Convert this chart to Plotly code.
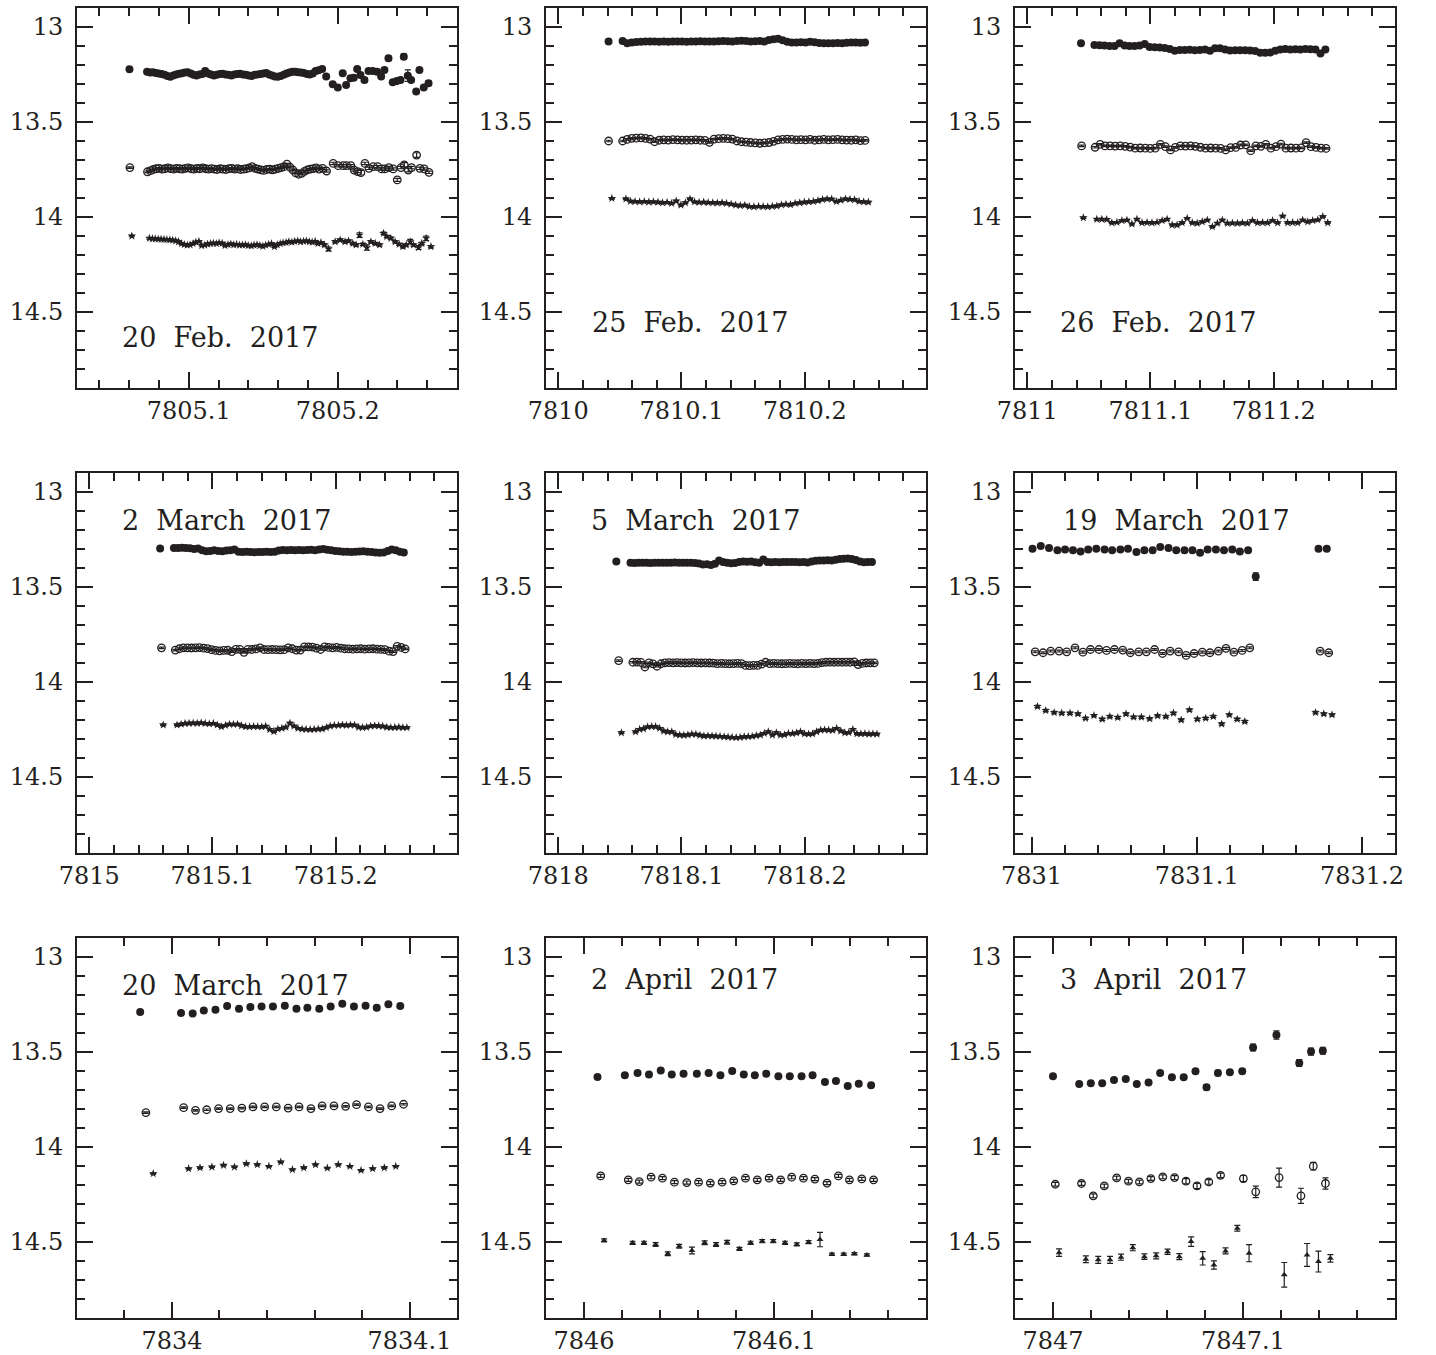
import plotly.graph_objects as go

# ---------------- data ----------------
DAYS = [7805, 7810, 7811, 7815, 7818, 7831, 7834, 7846, 7847]
LABELS = ["20 Feb. 2017", "25 Feb. 2017", "26 Feb. 2017",
          "2 March 2017", "5 March 2017", "19 March 2017",
          "20 March 2017", "2 April 2017", "3 April 2017"]
X_RANGES = [(7805.025, 7805.28), (7809.99, 7810.2985), (7810.99, 7811.2985),
            (7814.99, 7815.2985), (7817.99, 7818.2985), (7830.99, 7831.22),
            (7833.96, 7834.12), (7845.98, 7846.18), (7846.98, 7847.18)]
Y_RANGE = (14.9, 12.9)
Y_TICKS = [13, 13.5, 14, 14.5]

# time lag of the open-circle and star bands (panels 1-5, days)
LAG_V = [0.0003, 0.0000, 0.0005, 0.0011, 0.0019]
LAG_B = [0.0016, 0.0027, 0.0019, 0.0025, 0.0041]
ERR_SMALL = 0.004

# ---- panel 1: 20 Feb 2017 ----
T1 = [0.0602,
      0.0720, 0.0740, 0.0759, 0.0779, 0.0798, 0.0818, 0.0837, 0.0857, 0.0876, 0.0896,
      0.0915, 0.0935, 0.0954, 0.0974, 0.0993, 0.1013, 0.1032, 0.1052, 0.1071, 0.1091,
      0.1110, 0.1130, 0.1149, 0.1169, 0.1188, 0.1208, 0.1227, 0.1247, 0.1266, 0.1286,
      0.1305, 0.1325, 0.1344, 0.1364, 0.1383, 0.1403, 0.1422, 0.1442, 0.1461, 0.1481,
      0.1500, 0.1520, 0.1539, 0.1559, 0.1578, 0.1598, 0.1617, 0.1637, 0.1656, 0.1676,
      0.1695, 0.1715, 0.1734, 0.1754, 0.1773, 0.1793, 0.1812, 0.1832, 0.1851, 0.1871,
      0.1895, 0.1922, 0.1966, 0.2000, 0.2033, 0.2056, 0.2085, 0.2107, 0.2130, 0.2152,
      0.2179, 0.2206, 0.2235, 0.2264, 0.2291, 0.2313, 0.2340, 0.2369, 0.2396, 0.2421,
      0.2443, 0.2470, 0.2492, 0.2526, 0.2548, 0.2577, 0.2609]
R1 = [13.223,
      13.235, 13.240, 13.238, 13.242, 13.245, 13.248, 13.252, 13.258, 13.262, 13.255,
      13.250, 13.246, 13.244, 13.240, 13.238, 13.245, 13.252, 13.255, 13.250, 13.248,
      13.232, 13.245, 13.250, 13.255, 13.252, 13.248, 13.246, 13.250, 13.252, 13.255,
      13.250, 13.248, 13.246, 13.250, 13.252, 13.255, 13.258, 13.252, 13.250, 13.248,
      13.245, 13.242, 13.250, 13.255, 13.260, 13.262, 13.258, 13.252, 13.245, 13.240,
      13.236, 13.235, 13.238, 13.240, 13.242, 13.248, 13.250, 13.245, 13.232, 13.228,
      13.221, 13.261, 13.302, 13.319, 13.244, 13.305, 13.270, 13.267, 13.221, 13.253,
      13.279, 13.231, 13.231, 13.235, 13.261, 13.226, 13.165, 13.291, 13.284, 13.279,
      13.156, 13.256, 13.279, 13.340, 13.226, 13.319, 13.296]
V1 = [13.740,
      13.762, 13.756, 13.750, 13.746, 13.744, 13.748, 13.746, 13.742, 13.745, 13.748,
      13.744, 13.746, 13.748, 13.744, 13.742, 13.746, 13.748, 13.744, 13.746, 13.742,
      13.746, 13.748, 13.745, 13.748, 13.750, 13.746, 13.748, 13.750, 13.746, 13.744,
      13.748, 13.746, 13.750, 13.748, 13.746, 13.742, 13.735, 13.744, 13.748, 13.752,
      13.755, 13.750, 13.748, 13.752, 13.748, 13.744, 13.740, 13.735, 13.722, 13.738,
      13.752, 13.768, 13.775, 13.770, 13.760, 13.752, 13.748, 13.745, 13.742, 13.748,
      13.744, 13.758, 13.718, 13.730, 13.730, 13.730, 13.730, 13.753, 13.761, 13.767,
      13.718, 13.744, 13.735, 13.735, 13.747, 13.747, 13.740, 13.747, 13.805, 13.740,
      13.726, 13.753, 13.740, 13.674, 13.744, 13.747, 13.765]
B1 = [14.100,
      14.112, 14.114, 14.115, 14.116, 14.117, 14.118, 14.119, 14.120, 14.122, 14.125,
      14.130, 14.140, 14.145, 14.148, 14.146, 14.140, 14.132, 14.128, 14.150, 14.148,
      14.142, 14.140, 14.138, 14.140, 14.136, 14.138, 14.150, 14.145, 14.142, 14.146,
      14.144, 14.148, 14.147, 14.146, 14.150, 14.152, 14.148, 14.146, 14.150, 14.154,
      14.148, 14.144, 14.140, 14.156, 14.146, 14.140, 14.136, 14.134, 14.130, 14.132,
      14.128, 14.126, 14.130, 14.128, 14.126, 14.130, 14.132, 14.128, 14.140, 14.135,
      14.147, 14.168, 14.130, 14.121, 14.130, 14.126, 14.139, 14.147, 14.095, 14.144,
      14.161, 14.130, 14.139, 14.147, 14.086, 14.103, 14.112, 14.130, 14.144, 14.156,
      14.147, 14.130, 14.147, 14.161, 14.139, 14.112, 14.156]
ER1_LATE = [0.005, 0.006, 0.006, 0.006, 0.006, 0.006, 0.006, 0.006, 0.006, 0.010,
            0.012, 0.006, 0.006, 0.006, 0.006, 0.006, 0.012, 0.006, 0.006, 0.006,
            0.014, 0.030, 0.012, 0.008, 0.008, 0.008, 0.012]
EV1_LATE = [0.005, 0.006, 0.006, 0.006, 0.006, 0.006, 0.006, 0.006, 0.006, 0.012,
            0.006, 0.006, 0.006, 0.006, 0.006, 0.006, 0.006, 0.006, 0.008, 0.006,
            0.012, 0.010, 0.006, 0.012, 0.006, 0.006, 0.006]
EB1_LATE = [0.006, 0.010, 0.006, 0.006, 0.006, 0.006, 0.006, 0.006, 0.012, 0.006,
            0.014, 0.006, 0.006, 0.006, 0.006, 0.006, 0.006, 0.006, 0.006, 0.006,
            0.006, 0.012, 0.006, 0.010, 0.006, 0.012, 0.006]

# ---- panel 2: 25 Feb 2017 ----
T2 = [0.0408,
      0.0522, 0.0559, 0.0596, 0.0633, 0.0671, 0.0708, 0.0745, 0.0782, 0.0819, 0.0856,
      0.0893, 0.0930, 0.0968, 0.1005, 0.1042, 0.1079, 0.1116, 0.1153, 0.1190, 0.1227,
      0.1264, 0.1302, 0.1339, 0.1376, 0.1413, 0.1450, 0.1487, 0.1524, 0.1561, 0.1599,
      0.1636, 0.1673, 0.1710, 0.1747, 0.1784, 0.1821, 0.1858, 0.1895, 0.1933, 0.1970,
      0.2007, 0.2044, 0.2081, 0.2118, 0.2155, 0.2192, 0.2230, 0.2267, 0.2304, 0.2341,
      0.2378, 0.2415, 0.2452, 0.2490]
R2 = [13.077,
      13.074, 13.085, 13.082, 13.079, 13.078, 13.077, 13.076, 13.077, 13.078, 13.077,
      13.078, 13.077, 13.076, 13.077, 13.078, 13.077, 13.076, 13.075, 13.076, 13.077,
      13.076, 13.075, 13.074, 13.075, 13.076, 13.074, 13.073, 13.074, 13.076, 13.075,
      13.074, 13.076, 13.068, 13.064, 13.062, 13.070, 13.078, 13.081, 13.082, 13.080,
      13.082, 13.078, 13.080, 13.084, 13.086, 13.085, 13.086, 13.084, 13.085, 13.083,
      13.082, 13.081, 13.083, 13.081]
V2 = [13.600,
      13.600, 13.592, 13.586, 13.585, 13.584, 13.586, 13.590, 13.604, 13.596, 13.594,
      13.595, 13.593, 13.594, 13.595, 13.596, 13.595, 13.594, 13.596, 13.597, 13.607,
      13.590, 13.588, 13.586, 13.588, 13.590, 13.600, 13.604, 13.606, 13.608, 13.610,
      13.612, 13.610, 13.608, 13.602, 13.594, 13.592, 13.590, 13.592, 13.594, 13.593,
      13.594, 13.592, 13.596, 13.594, 13.592, 13.594, 13.593, 13.592, 13.594, 13.595,
      13.596, 13.594, 13.598, 13.597]
B2 = [13.902,
      13.905, 13.917, 13.919, 13.920, 13.919, 13.921, 13.920, 13.922, 13.925, 13.923,
      13.928, 13.916, 13.937, 13.925, 13.905, 13.920, 13.923, 13.922, 13.924, 13.925,
      13.926, 13.925, 13.928, 13.932, 13.937, 13.940, 13.938, 13.945, 13.946, 13.944,
      13.945, 13.946, 13.944, 13.942, 13.936, 13.933, 13.935, 13.928, 13.925, 13.922,
      13.920, 13.918, 13.914, 13.908, 13.905, 13.906, 13.919, 13.912, 13.905, 13.907,
      13.909, 13.918, 13.920, 13.922]

# ---- panel 3: 26 Feb 2017 ----
T3 = [0.0436,
      0.0545, 0.0586, 0.0626, 0.0667, 0.0708, 0.0749, 0.0790, 0.0830, 0.0871, 0.0912,
      0.0953, 0.0993, 0.1034, 0.1075, 0.1116, 0.1157, 0.1197, 0.1238, 0.1279, 0.1320,
      0.1360, 0.1401, 0.1442, 0.1483, 0.1524, 0.1564, 0.1605, 0.1646, 0.1687, 0.1727,
      0.1768, 0.1809, 0.1850, 0.1891, 0.1931, 0.1972, 0.2013, 0.2054, 0.2094, 0.2135,
      0.2176, 0.2217, 0.2258, 0.2298, 0.2339, 0.2380, 0.2420]
R3 = [13.086,
      13.095, 13.096, 13.098, 13.100, 13.100, 13.086, 13.097, 13.100, 13.100, 13.098,
      13.089, 13.105, 13.107, 13.108, 13.110, 13.116, 13.125, 13.121, 13.121, 13.120,
      13.122, 13.121, 13.118, 13.125, 13.112, 13.112, 13.118, 13.124, 13.122, 13.123,
      13.122, 13.124, 13.126, 13.135, 13.136, 13.134, 13.125, 13.118, 13.116, 13.118,
      13.117, 13.118, 13.116, 13.117, 13.118, 13.139, 13.118]
V3 = [13.626,
      13.633, 13.618, 13.626, 13.626, 13.627, 13.626, 13.628, 13.632, 13.638, 13.637,
      13.638, 13.639, 13.638, 13.618, 13.630, 13.647, 13.634, 13.626, 13.627, 13.626,
      13.628, 13.633, 13.638, 13.637, 13.638, 13.639, 13.647, 13.635, 13.634, 13.621,
      13.620, 13.651, 13.626, 13.628, 13.618, 13.638, 13.630, 13.616, 13.638, 13.637,
      13.638, 13.636, 13.609, 13.630, 13.634, 13.638, 13.639]
B3 = [14.004,
      14.012, 14.012, 14.013, 14.030, 14.028, 14.019, 14.016, 14.037, 14.012, 14.030,
      14.029, 14.030, 14.028, 14.019, 14.012, 14.042, 14.042, 14.030, 14.007, 14.030,
      14.033, 14.025, 14.016, 14.051, 14.033, 14.016, 14.033, 14.032, 14.033, 14.031,
      14.033, 14.019, 14.030, 14.029, 14.030, 14.019, 14.030, 13.995, 14.030, 14.029,
      14.030, 14.016, 14.025, 14.019, 14.015, 13.998, 14.030]

# ---- panel 4: 2 March 2017 ----
T4 = [0.0575,
      0.0687, 0.0720, 0.0752, 0.0785, 0.0818, 0.0851, 0.0883, 0.0916, 0.0949, 0.0982,
      0.1014, 0.1047, 0.1080, 0.1113, 0.1145, 0.1178, 0.1211, 0.1244, 0.1276, 0.1309,
      0.1342, 0.1375, 0.1407, 0.1440, 0.1473, 0.1506, 0.1538, 0.1571, 0.1604, 0.1637,
      0.1669, 0.1702, 0.1735, 0.1768, 0.1800, 0.1833, 0.1866, 0.1899, 0.1931, 0.1964,
      0.1997, 0.2030, 0.2062, 0.2095, 0.2128, 0.2161, 0.2193, 0.2226, 0.2259, 0.2292,
      0.2324, 0.2357, 0.2390, 0.2423, 0.2455, 0.2488, 0.2521, 0.2553]
R4 = [13.298,
      13.295, 13.295, 13.294, 13.295, 13.296, 13.300, 13.298, 13.306, 13.312, 13.310,
      13.306, 13.310, 13.312, 13.308, 13.306, 13.302, 13.314, 13.316, 13.315, 13.316,
      13.317, 13.316, 13.316, 13.315, 13.316, 13.314, 13.308, 13.305, 13.306, 13.305,
      13.306, 13.305, 13.306, 13.305, 13.304, 13.306, 13.302, 13.300, 13.304, 13.306,
      13.310, 13.312, 13.314, 13.315, 13.316, 13.314, 13.313, 13.312, 13.314, 13.316,
      13.318, 13.320, 13.318, 13.310, 13.302, 13.306, 13.314, 13.318]
V4 = [13.820,
      13.832, 13.825, 13.820, 13.820, 13.821, 13.820, 13.819, 13.822, 13.824, 13.830,
      13.834, 13.836, 13.834, 13.833, 13.840, 13.828, 13.828, 13.844, 13.828, 13.829,
      13.826, 13.820, 13.829, 13.830, 13.829, 13.830, 13.831, 13.830, 13.820, 13.825,
      13.832, 13.832, 13.815, 13.815, 13.816, 13.822, 13.829, 13.815, 13.818, 13.820,
      13.818, 13.822, 13.825, 13.826, 13.827, 13.826, 13.825, 13.827, 13.826, 13.825,
      13.827, 13.828, 13.830, 13.838, 13.840, 13.812, 13.818, 13.826]
B4 = [14.226,
      14.226, 14.222, 14.218, 14.217, 14.216, 14.217, 14.215, 14.218, 14.220, 14.218,
      14.226, 14.235, 14.228, 14.222, 14.223, 14.222, 14.230, 14.235, 14.236, 14.234,
      14.235, 14.236, 14.233, 14.250, 14.261, 14.248, 14.244, 14.238, 14.217, 14.232,
      14.244, 14.248, 14.249, 14.250, 14.249, 14.248, 14.247, 14.240, 14.232, 14.228,
      14.228, 14.226, 14.228, 14.226, 14.227, 14.238, 14.240, 14.238, 14.232, 14.230,
      14.231, 14.233, 14.238, 14.240, 14.239, 14.238, 14.240, 14.240]

# ---- panel 5: 5 March 2017 ----
T5 = [0.0471,
      0.0586, 0.0619, 0.0651, 0.0684, 0.0717, 0.0749, 0.0782, 0.0815, 0.0847, 0.0880,
      0.0913, 0.0945, 0.0978, 0.1011, 0.1043, 0.1076, 0.1109, 0.1141, 0.1174, 0.1207,
      0.1239, 0.1272, 0.1305, 0.1337, 0.1370, 0.1403, 0.1435, 0.1468, 0.1501, 0.1533,
      0.1566, 0.1599, 0.1631, 0.1664, 0.1697, 0.1729, 0.1762, 0.1795, 0.1827, 0.1860,
      0.1893, 0.1925, 0.1958, 0.1991, 0.2023, 0.2056, 0.2089, 0.2121, 0.2154, 0.2187,
      0.2219, 0.2252, 0.2285, 0.2317, 0.2350, 0.2383, 0.2415, 0.2448, 0.2481, 0.2513,
      0.2546]
R5 = [13.366,
      13.373, 13.374, 13.373, 13.372, 13.373, 13.374, 13.372, 13.373, 13.372, 13.373,
      13.372, 13.371, 13.372, 13.373, 13.372, 13.373, 13.374, 13.376, 13.382, 13.380,
      13.384, 13.378, 13.360, 13.368, 13.373, 13.375, 13.374, 13.368, 13.366, 13.367,
      13.366, 13.370, 13.373, 13.355, 13.368, 13.370, 13.369, 13.370, 13.369, 13.368,
      13.369, 13.368, 13.370, 13.369, 13.371, 13.366, 13.362, 13.361, 13.360, 13.359,
      13.360, 13.356, 13.352, 13.351, 13.350, 13.352, 13.358, 13.366, 13.370, 13.369,
      13.369]
V5 = [13.887,
      13.896, 13.895, 13.897, 13.921, 13.899, 13.905, 13.917, 13.904, 13.899, 13.898,
      13.899, 13.898, 13.899, 13.900, 13.899, 13.898, 13.899, 13.900, 13.899, 13.900,
      13.901, 13.903, 13.902, 13.903, 13.904, 13.903, 13.902, 13.903, 13.913, 13.914,
      13.912, 13.913, 13.906, 13.896, 13.903, 13.902, 13.903, 13.904, 13.903, 13.902,
      13.903, 13.904, 13.902, 13.903, 13.902, 13.903, 13.902, 13.898, 13.896, 13.895,
      13.896, 13.895, 13.896, 13.895, 13.896, 13.894, 13.908, 13.902, 13.900, 13.899,
      13.899]
B5 = [14.267,
      14.262, 14.249, 14.246, 14.236, 14.234, 14.235, 14.244, 14.258, 14.262, 14.262,
      14.276, 14.279, 14.280, 14.278, 14.274, 14.275, 14.280, 14.284, 14.283, 14.284,
      14.285, 14.286, 14.288, 14.290, 14.291, 14.292, 14.291, 14.288, 14.287, 14.286,
      14.282, 14.279, 14.270, 14.262, 14.279, 14.267, 14.279, 14.278, 14.270, 14.271,
      14.268, 14.262, 14.273, 14.274, 14.273, 14.262, 14.253, 14.252, 14.253, 14.254,
      14.244, 14.258, 14.267, 14.266, 14.250, 14.272, 14.273, 14.272, 14.274, 14.273,
      14.274]

# ---- panel 6: 19 March 2017 ----
T6R = [0.0006, 0.0056, 0.0106, 0.0157, 0.0203, 0.0251, 0.0297, 0.0343, 0.0392, 0.0442,
       0.0488, 0.0538, 0.0584, 0.0635, 0.0683, 0.0733, 0.0779, 0.0829, 0.0876, 0.0926,
       0.0974, 0.1020, 0.1066, 0.1116, 0.1165, 0.1215, 0.1261, 0.1311, 0.1357, 0.1737,
       0.1787]
R6 = [13.299, 13.284, 13.295, 13.307, 13.302, 13.307, 13.313, 13.302, 13.299, 13.302,
      13.307, 13.302, 13.299, 13.316, 13.307, 13.307, 13.290, 13.295, 13.307, 13.307,
      13.307, 13.320, 13.302, 13.302, 13.307, 13.302, 13.313, 13.307, 13.445, 13.299,
      13.299]
ER6 = [0.004, 0.004, 0.004, 0.004, 0.004, 0.004, 0.004, 0.004, 0.004, 0.004,
       0.004, 0.004, 0.004, 0.004, 0.004, 0.004, 0.004, 0.004, 0.004, 0.004,
       0.004, 0.004, 0.004, 0.004, 0.004, 0.004, 0.004, 0.004, 0.020, 0.004,
       0.004]
T6V = [0.0022, 0.0070, 0.0116, 0.0167, 0.0213, 0.0263, 0.0311, 0.0357, 0.0408, 0.0454,
       0.0502, 0.0552, 0.0598, 0.0649, 0.0695, 0.0745, 0.0793, 0.0839, 0.0890, 0.0936,
       0.0984, 0.1034, 0.1080, 0.1131, 0.1177, 0.1225, 0.1275, 0.1321, 0.1747, 0.1799]
V6 = [13.841, 13.846, 13.837, 13.837, 13.841, 13.820, 13.843, 13.829, 13.829, 13.834,
      13.829, 13.832, 13.846, 13.841, 13.841, 13.829, 13.850, 13.837, 13.841, 13.860,
      13.850, 13.843, 13.846, 13.837, 13.823, 13.843, 13.834, 13.820, 13.837, 13.846]
T6B = [0.0036, 0.0086, 0.0137, 0.0183, 0.0233, 0.0281, 0.0327, 0.0378, 0.0428, 0.0474,
       0.0522, 0.0572, 0.0618, 0.0665, 0.0715, 0.0763, 0.0813, 0.0859, 0.0906, 0.0956,
       0.1004, 0.1054, 0.1100, 0.1151, 0.1197, 0.1245, 0.1291, 0.1719, 0.1769, 0.1819]
B6 = [14.129, 14.150, 14.161, 14.164, 14.164, 14.168, 14.191, 14.177, 14.196, 14.182,
      14.187, 14.168, 14.185, 14.185, 14.194, 14.178, 14.182, 14.164, 14.200, 14.147,
      14.196, 14.191, 14.182, 14.221, 14.173, 14.196, 14.208, 14.161, 14.168, 14.173]

# ---- panel 7: 20 March 2017 ----
T7R = [-0.0134, 0.0038, 0.0087, 0.0134, 0.0183, 0.0232, 0.0282, 0.0330, 0.0377, 0.0425,
       0.0475, 0.0524, 0.0570, 0.0620, 0.0668, 0.0717, 0.0766, 0.0815, 0.0862, 0.0911,
       0.0961]
R7 = [13.289, 13.295, 13.298, 13.281, 13.277, 13.258, 13.272, 13.263, 13.260, 13.260,
      13.256, 13.272, 13.267, 13.272, 13.260, 13.246, 13.260, 13.256, 13.267, 13.249,
      13.258]
T7V = [-0.0110, 0.0049, 0.0099, 0.0146, 0.0196, 0.0245, 0.0294, 0.0341, 0.0390, 0.0439,
       0.0489, 0.0535, 0.0585, 0.0632, 0.0682, 0.0731, 0.0777, 0.0827, 0.0876, 0.0925,
       0.0975]
V7 = [13.819, 13.793, 13.807, 13.804, 13.798, 13.798, 13.795, 13.789, 13.789, 13.789,
      13.795, 13.789, 13.798, 13.784, 13.784, 13.786, 13.777, 13.789, 13.798, 13.784,
      13.775]
T7B = [-0.0079, 0.0070, 0.0118, 0.0168, 0.0217, 0.0263, 0.0313, 0.0359, 0.0408, 0.0458,
       0.0507, 0.0555, 0.0604, 0.0654, 0.0700, 0.0749, 0.0796, 0.0845, 0.0894, 0.0942]
B7 = [14.140, 14.114, 14.109, 14.105, 14.096, 14.105, 14.088, 14.093, 14.102, 14.079,
      14.119, 14.109, 14.093, 14.111, 14.093, 14.102, 14.123, 14.114, 14.109, 14.102]

# ---- panel 8: 2 April 2017 ----
T8R = [0.0071, 0.0215, 0.0282, 0.0342, 0.0404, 0.0462, 0.0524, 0.0594, 0.0656, 0.0718,
       0.0780, 0.0841, 0.0899, 0.0959, 0.1023, 0.1083, 0.1145, 0.1203, 0.1268, 0.1326,
       0.1388, 0.1446, 0.1511]
R8 = [13.632, 13.623, 13.611, 13.618, 13.597, 13.618, 13.614, 13.614, 13.611, 13.623,
      13.600, 13.618, 13.623, 13.614, 13.628, 13.628, 13.627, 13.623, 13.658, 13.653,
      13.679, 13.667, 13.675]
T8V = [0.0088, 0.0233, 0.0291, 0.0353, 0.0413, 0.0476, 0.0541, 0.0603, 0.0665, 0.0727,
       0.0788, 0.0850, 0.0912, 0.0974, 0.1035, 0.1093, 0.1155, 0.1215, 0.1279, 0.1339,
       0.1397, 0.1462, 0.1524]
V8 = [14.152, 14.173, 14.182, 14.159, 14.164, 14.185, 14.187, 14.185, 14.190, 14.185,
      14.178, 14.164, 14.173, 14.164, 14.173, 14.159, 14.164, 14.169, 14.190, 14.152,
      14.173, 14.168, 14.173]
T8B = [0.0106, 0.0256, 0.0316, 0.0377, 0.0441, 0.0501, 0.0568, 0.0635, 0.0695, 0.0753,
       0.0818, 0.0877, 0.0938, 0.0996, 0.1058, 0.1120, 0.1182, 0.1242, 0.1305, 0.1367,
       0.1423, 0.1489]
B8 = [14.492, 14.504, 14.504, 14.513, 14.562, 14.522, 14.545, 14.504, 14.513, 14.501,
      14.536, 14.504, 14.496, 14.496, 14.504, 14.513, 14.501, 14.487, 14.565, 14.565,
      14.562, 14.569]
EB8 = [0.008, 0.008, 0.008, 0.010, 0.010, 0.010, 0.018, 0.010, 0.010, 0.010,
       0.008, 0.008, 0.008, 0.008, 0.008, 0.008, 0.008, 0.038, 0.006, 0.006,
       0.006, 0.006]

# ---- panel 9: 3 April 2017 ----
T9R = [0.0000, 0.0138, 0.0199, 0.0259, 0.0321, 0.0383, 0.0441, 0.0503, 0.0564, 0.0626,
       0.0688, 0.0750, 0.0808, 0.0868, 0.0931, 0.0996, 0.1053, 0.1176, 0.1296, 0.1358,
       0.1420]
R9 = [13.628, 13.668, 13.664, 13.664, 13.647, 13.642, 13.668, 13.661, 13.610, 13.633,
      13.633, 13.601, 13.685, 13.610, 13.607, 13.601, 13.476, 13.411, 13.558, 13.498,
      13.493]
ER9 = [0.007, 0.007, 0.007, 0.007, 0.007, 0.007, 0.008, 0.008, 0.008, 0.009,
       0.010, 0.010, 0.014, 0.014, 0.008, 0.012, 0.018, 0.022, 0.018, 0.018,
       0.018]
T9V = [0.0012, 0.0150, 0.0212, 0.0270, 0.0335, 0.0397, 0.0455, 0.0515, 0.0578, 0.0640,
       0.0700, 0.0758, 0.0820, 0.0882, 0.1002, 0.1067, 0.1190, 0.1305, 0.1370, 0.1434]
V9 = [14.196, 14.192, 14.257, 14.205, 14.163, 14.180, 14.184, 14.166, 14.157, 14.161,
      14.180, 14.205, 14.184, 14.149, 14.166, 14.236, 14.161, 14.257, 14.101, 14.192]
EV9 = [0.010, 0.010, 0.010, 0.010, 0.010, 0.010, 0.010, 0.010, 0.010, 0.010,
       0.014, 0.014, 0.012, 0.012, 0.016, 0.030, 0.050, 0.040, 0.020, 0.030]
T9B = [0.0032, 0.0173, 0.0238, 0.0300, 0.0358, 0.0420, 0.0481, 0.0543, 0.0603, 0.0665,
       0.0727, 0.0788, 0.0847, 0.0908, 0.0970, 0.1032, 0.1217, 0.1337, 0.1397, 0.1460]
B9 = [14.556, 14.591, 14.594, 14.594, 14.580, 14.530, 14.577, 14.573, 14.551, 14.577,
      14.498, 14.586, 14.621, 14.547, 14.428, 14.559, 14.673, 14.568, 14.603, 14.586]
EB9 = [0.020, 0.018, 0.018, 0.018, 0.016, 0.016, 0.014, 0.016, 0.014, 0.016,
       0.025, 0.035, 0.022, 0.016, 0.015, 0.045, 0.065, 0.060, 0.055, 0.020]

# ---------------- assemble ----------------
def const(v, n):
    return [v] * n

shared = [(T1, R1, V1, B1), (T2, R2, V2, B2), (T3, R3, V3, B3),
          (T4, R4, V4, B4), (T5, R5, V5, B5)]
bands = []  # per panel: list of (times, mags, errors)
for i, (t, r, v, b) in enumerate(shared):
    n = len(t)
    if i == 0:
        er = const(ERR_SMALL, n - len(ER1_LATE)) + ER1_LATE
        ev = const(ERR_SMALL, n - len(EV1_LATE)) + EV1_LATE
        eb = const(ERR_SMALL, n - len(EB1_LATE)) + EB1_LATE
    else:
        er = ev = eb = const(ERR_SMALL, n)
    bands.append([(t, r, er),
                  ([x + LAG_V[i] for x in t], v, ev),
                  ([x + LAG_B[i] for x in t], b, eb)])
bands.append([(T6R, R6, ER6), (T6V, V6, const(0.005, len(V6))), (T6B, B6, const(0.006, len(B6)))])
bands.append([(T7R, R7, const(0.003, len(R7))), (T7V, V7, const(0.004, len(V7))), (T7B, B7, const(0.003, len(B7)))])
bands.append([(T8R, R8, const(0.005, len(R8))), (T8V, V8, const(0.008, len(V8))), (T8B, B8, EB8)])
bands.append([(T9R, R9, ER9), (T9V, V9, EV9), (T9B, B9, EB9)])

# ---------------- figure ----------------
INK = "#231f20"
FONT = "DejaVu Serif"
COL_X = [(0.05362, 0.31825), (0.38022, 0.64485), (0.70682, 0.97145)]
ROW_Y = [(0.71365, 0.99410), (0.37048, 0.65092), (0.02731, 0.30775)]
LABEL_POS = [(0.113, 0.134), (0.115, 0.172), (0.113, 0.172),
             (0.113, 0.874), (0.113, 0.874), (0.121, 0.874),
             (0.113, 0.874), (0.113, 0.890), (0.113, 0.890)]

fig = go.Figure()
symbols = [("circle", 8, 0), ("circle-open", 7.5, 1.3), ("star", 6.5, 0)]

for p in range(9):
    sfx = "" if p == 0 else str(p + 1)
    day = DAYS[p]
    for k, (t, m, e) in enumerate(bands[p]):
        sym, size, lw = symbols[k]
        if k == 2 and p >= 7:
            sym, size = "triangle-up", 6
        fig.add_trace(go.Scatter(
            x=[day + v for v in t], y=m, mode="markers",
            xaxis="x" + sfx, yaxis="y" + sfx,
            marker=dict(symbol=sym, size=size, color=INK,
                        line=dict(color=INK, width=lw)),
            error_y=dict(type="data", array=e, visible=True, color=INK,
                         thickness=1.2, width=3),
            showlegend=False, hoverinfo="x+y"))

    r, c = divmod(p, 3)
    axis_common = dict(showline=True, linewidth=2, linecolor=INK, mirror="allticks",
                       ticks="inside", tickwidth=1.5, tickcolor=INK,
                       showgrid=False, zeroline=False, automargin=False,
                       tickfont=dict(family=FONT, size=24, color=INK))
    fig.layout["xaxis" + sfx] = dict(
        domain=COL_X[c], anchor="y" + sfx, range=list(X_RANGES[p]),
        tick0=day, dtick=0.1, ticklen=16, ticklabelstandoff=0,
        tickformat=".2~f",
        minor=dict(tick0=day, dtick=0.02, ticks="inside", ticklen=8,
                   tickwidth=1.5, tickcolor=INK),
        **axis_common)
    fig.layout["yaxis" + sfx] = dict(
        domain=ROW_Y[r], anchor="x" + sfx, range=list(Y_RANGE),
        tickvals=Y_TICKS, ticklen=16, ticklabelstandoff=7,
        minor=dict(tick0=13, dtick=0.1, ticks="inside", ticklen=8,
                   tickwidth=1.5, tickcolor=INK),
        **axis_common)
    lx, ly = LABEL_POS[p]
    fig.add_annotation(
        text=LABELS[p].replace(" ", "\u00a0 "),
        xref="x" + sfx + " domain", yref="y" + sfx + " domain", x=lx, y=ly,
        xanchor="left", yanchor="middle", showarrow=False,
        font=dict(family=FONT, size=27, color=INK))

fig.update_layout(width=1436, height=1355, margin=dict(l=0, r=0, t=0, b=0),
                  paper_bgcolor="white", plot_bgcolor="white", showlegend=False)
fig.write_html("out.html")
